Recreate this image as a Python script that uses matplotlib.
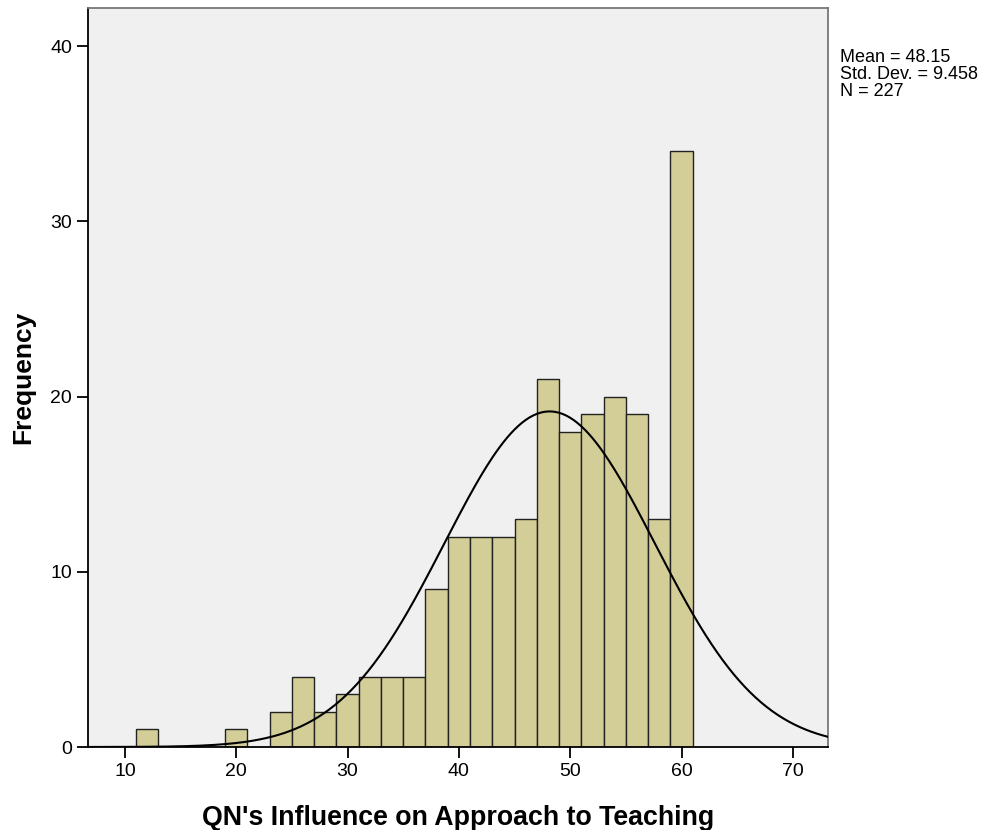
import numpy as np
import matplotlib.pyplot as plt

plt.rcParams['font.family'] = ['Liberation Sans', 'DejaVu Sans']

# bin left edges (width 2) and frequencies
bin_left = [11, 19, 23, 25, 27, 29, 31, 33, 35, 37, 39, 41, 43, 45, 47, 49, 51, 53, 55, 57, 59]
counts = [1, 1, 2, 4, 2, 3, 4, 4, 4, 9, 12, 12, 12, 13, 21, 18, 19, 20, 19, 13, 34]
bin_width = 2
mean = 48.15
std = 9.458
n = 227

fig = plt.figure(figsize=(9.95, 8.3), dpi=100)
ax = fig.add_axes([88 / 995, 1 - 747 / 830, (828 - 88) / 995, (747 - 8) / 830])
ax.set_facecolor('#f0f0f0')

ax.bar(bin_left, counts, width=bin_width, align='edge', color='#d3ce97',
       edgecolor='#222222', linewidth=1.0, zorder=2)

# normal curve
xs = np.linspace(6.68, 73.16, 400)
ys = n * bin_width / (std * np.sqrt(2 * np.pi)) * np.exp(-0.5 * ((xs - mean) / std) ** 2)
ax.plot(xs, ys, color='black', linewidth=1.5, zorder=3)

ax.set_xlim(6.68, 73.16)
ax.set_ylim(0, 42.17)
ax.set_xticks([10, 20, 30, 40, 50, 60, 70])
ax.set_yticks([0, 10, 20, 30, 40])
ax.tick_params(direction='out', length=8, width=1.3, pad=3.5, labelsize=14, colors='black')

for s in ['left', 'bottom']:
    ax.spines[s].set_color('black')
    ax.spines[s].set_linewidth(1.3)
for s in ['top', 'right']:
    ax.spines[s].set_color('#777777')
    ax.spines[s].set_linewidth(1.3)

ax.set_xlabel("QN's Influence on Approach to Teaching", fontsize=19.3, fontweight='bold', labelpad=18)
ax.set_ylabel('Frequency', fontsize=19, fontweight='bold', labelpad=11)

fig.text(840 / 995, 1 - 49 / 830,
         'Mean = 48.15\nStd. Dev. = 9.458\nN = 227',
         fontsize=13, va='top', ha='left', linespacing=1.0)

fig.savefig('out.png', dpi=100)
